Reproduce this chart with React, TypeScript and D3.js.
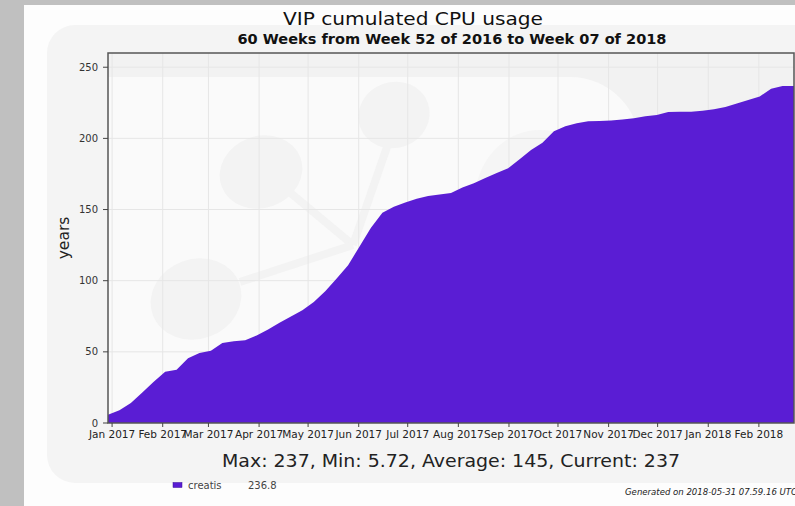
import React from 'react';
import * as d3 from 'd3';

// weekly cumulated CPU usage (years), week 52 of 2016 .. week 07 of 2018
const firstWeekCenter = '2016-12-29T12:00:00';
const cpuYears = [
  5.72, 9, 14, 21.5, 29, 36, 37.5, 45.5, 49.2, 50.8,
  56.3, 57.5, 58.2, 61.5, 65.7, 70.5, 74.8, 79.2, 85, 92.5,
  101.5, 110.9, 124, 137.2, 147.7, 152, 155, 157.5, 159.6, 160.5,
  161.7, 165.4, 168.4, 172.2, 175.7, 179, 185.3, 191.8, 196.9, 205,
  208.5, 210.6, 212, 212.3, 212.5, 213.2, 214.1, 215.5, 216.4, 218.5,
  218.7, 218.8, 219.5, 220.5, 222, 224.5, 227, 229.5, 234.8, 236.8,
];
const yTicks = [0, 50, 100, 150, 200, 250];
const seriesName = 'creatis';
const title = 'VIP cumulated CPU usage';
const subtitle = '60 Weeks from Week 52 of 2016 to Week 07 of 2018';
const stats = 'Max: 237, Min: 5.72, Average: 145, Current: 237';
const legendValue = '236.8';
const generated = 'Generated on 2018-05-31 07.59.16 UTC';

const W = 795, H = 506;
const plot = { left: 108, top: 53, right: 794, bottom: 423 };
const purple = '#5a1dd4';
const font = 'DejaVu Sans, Verdana, sans-serif';

const start = new Date(firstWeekCenter);
const weekDates = cpuYears.map((_, i) => d3.timeDay.offset(start, 7 * i));

export default function App() {
  const x = d3.scaleTime()
    .domain([start, d3.timeDay.offset(start, 7 * cpuYears.length)])
    .range([plot.left, plot.right]);
  const y = d3.scaleLinear().domain([0, 260]).range([plot.bottom, plot.top]);

  const pts = weekDates.map((d, i) => ({ d, v: cpuYears[i] }));
  pts.push({ d: x.domain()[1], v: cpuYears[cpuYears.length - 1] }); // hold last value to the edge
  const area = d3.area<{ d: Date; v: number }>()
    .x(p => x(p.d)).y0(y(0)).y1(p => y(p.v));

  const months = x.ticks(d3.timeMonth.every(1)!);
  const fmt = d3.timeFormat('%b %Y');
  const pw = plot.right - plot.left, ph = plot.bottom - plot.top;
  const cx = (plot.left + plot.right) / 2;
  const wm = '#f3f3f3';

  return (
    <div style={{ position: 'absolute', left: 0, top: 0 }}>
      <svg width={W} height={H} style={{ display: 'block', fontFamily: font }}>
        <defs>
          <clipPath id="plotClip">
            <rect x={plot.left} y={plot.top} width={pw} height={ph} />
          </clipPath>
        </defs>
        <rect width={W} height={H} fill="#fdfdfd" />
        <rect x={0} y={0} width={24} height={H} fill="#c0c0c0" />
        <rect x={0} y={0} width={W} height={5} fill="#c0c0c0" />
        {/* faint logo watermark behind the chart */}
        <rect x={47} y={25} width={790} height={458} rx={28} fill="#f4f4f4" />

        <g clipPath="url(#plotClip)">
          <rect x={plot.left} y={plot.top} width={pw} height={ph} fill="#f2f2f2" />
          <rect x={40} y={77} width={600} height={420} rx={70} fill="#fafafa" />
          <ellipse cx={540} cy={200} rx={65} ry={70} fill="#f5f5f5" />
          <line x1={287} y1={190} x2={353} y2={245} stroke={wm} strokeWidth={8} />
          <line x1={387} y1={147} x2={353} y2={245} stroke={wm} strokeWidth={8} />
          <line x1={353} y1={245} x2={240} y2={282} stroke={wm} strokeWidth={8} />
          <ellipse cx={261} cy={172} rx={42} ry={36} fill={wm} transform="rotate(-20 261 172)" />
          <ellipse cx={394} cy={115} rx={36} ry={33} fill={wm} transform="rotate(-20 394 115)" />
          <ellipse cx={196} cy={299} rx={46} ry={40} fill={wm} transform="rotate(-20 196 299)" />

          {months.map(m => (
            <line key={+m} x1={x(m)} x2={x(m)} y1={plot.top} y2={plot.bottom} stroke="#e6e6e6" />
          ))}
          {yTicks.map(t => (
            <line key={t} x1={plot.left} x2={plot.right} y1={y(t)} y2={y(t)} stroke="#e6e6e6" />
          ))}
          <path d={area(pts)!} fill={purple} />
        </g>

        <rect x={plot.left} y={plot.top} width={pw} height={ph} fill="none" stroke="#555" strokeWidth={1.5} />

        {yTicks.map(t => (
          <g key={t}>
            <line x1={plot.left - 5} x2={plot.left} y1={y(t)} y2={y(t)} stroke="#444" />
            <text x={plot.left - 10} y={y(t)} dy="0.35em" textAnchor="end" fontSize={10} fill="#333">{t}</text>
          </g>
        ))}
        {months.map(m => (
          <g key={+m}>
            <line x1={x(m)} x2={x(m)} y1={plot.bottom} y2={plot.bottom + 4} stroke="#444" />
            <text x={x(m)} y={plot.bottom + 15} textAnchor="middle" fontSize={10.5} fill="#222">{fmt(m)}</text>
          </g>
        ))}

        <text transform={`translate(69,${(plot.top + plot.bottom) / 2}) rotate(-90)`} textAnchor="middle" fontSize={15.5} fill="#222">years</text>

        <text x={413} y={25} textAnchor="middle" fontSize={18} fill="#111" textLength={260} lengthAdjust="spacingAndGlyphs">{title}</text>
        <text x={452} y={44} textAnchor="middle" fontSize={13.5} fontWeight="bold" fill="#111" textLength={429} lengthAdjust="spacingAndGlyphs">{subtitle}</text>
        <text x={cx} y={466.5} textAnchor="middle" fontSize={17} fill="#222" textLength={458} lengthAdjust="spacingAndGlyphs">{stats}</text>

        <rect x={173} y={482.5} width={9} height={5} fill={purple} stroke="#3a0f99" strokeWidth={0.5} />
        <text x={188} y={489} fontSize={10} fill="#444">{seriesName}</text>
        <text x={248} y={489} fontSize={10} fill="#444">{legendValue}</text>
        <text x={625} y={495} fontSize={8} fontStyle="italic" fill="#222" textLength={172} lengthAdjust="spacingAndGlyphs">{generated}</text>
      </svg>
    </div>
  );
}
